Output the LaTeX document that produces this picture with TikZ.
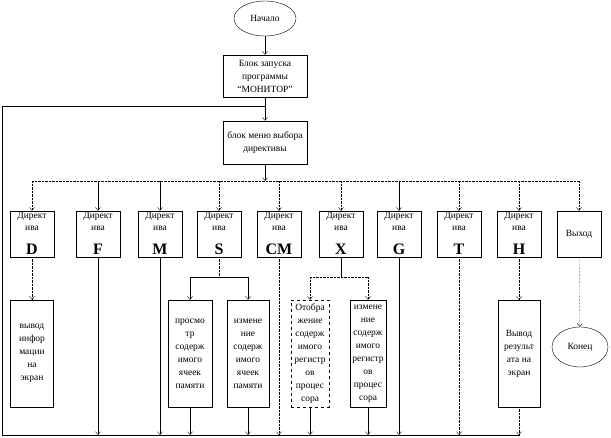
\documentclass[tikz,border=0pt]{standalone}
\usepackage{fontspec}
\setmainfont{Liberation Serif}
\usetikzlibrary{shapes.geometric,arrows.meta}

\begin{document}
\begin{tikzpicture}
		[x=1pt,y=-1pt,>={Straight Barb[length=3pt,width=5pt]},
		every node/.style={draw,inner sep=0pt,align=center,font=\fontsize{9.5}{13}\selectfont},
		term/.style={ellipse},
		blk/.style={minimum width=84pt,minimum height=42pt},
		dir/.style={minimum width=44pt,minimum height=46pt,font=\fontsize{9.5}{12}\selectfont},
		letter/.style={font=\fontsize{16}{16}\selectfont\bfseries},
		outbox/.style={minimum height=107pt},
		dots/.style={densely dotted}]
		\useasboundingbox (0,0) rectangle (611,438);
		% start and menu
		\node[term,minimum width=62pt,minimum height=35pt] (start) at (265,18.5) {Начало};
		\node[blk] (run) at (265,76) {Блок запуска\\программы\\“МОНИТОР”};
		\node[blk,minimum height=43pt] (menu) at (265,142.5) {блок меню выбора\\директивы};
		\coordinate (busL) at (32,181);
		\coordinate (busR) at (579,181);
		\coordinate (botL) at (2,435);
		\coordinate (botR) at (520,435);
		\coordinate (back) at (2,106);
		\draw[->] (start) -- (run);
		\draw[->] (run) -- (menu);
		\draw[->] (menu) -- (menu |- busL);
		\draw[dots] (busL) -- (busR);
		% directives
		\foreach \n/\x in {D/32,F/98,M/160,S/219,CM/279,X/341,G/399,T/459,H/519}
			\node[dir,label={[draw=none,letter,anchor=south,yshift=2pt]south:\n}] (dir\n) at (\x,234) {Директ\\ива\\[14pt]};
		\node[dir] (ext) at (579,234) {Выход};
		\foreach \n in {D,S,CM,X,T,H}
			\draw[->,dots] (dir\n |- busL) -- (dir\n);
		\foreach \n in {F,M,G}
			\draw[->] (dir\n |- busL) -- (dir\n);
		\draw[->,dots] (busR) -- (ext);
		% actions
		\node[outbox,minimum width=43pt] (outD) at (32,353.5) {вывод\\инфор\\мации\\на\\экран};
		\node[outbox,minimum width=44pt] (sOne) at (190,353.5) {просмо\\тр\\содерж\\имого\\ячеек\\памяти};
		\node[outbox,minimum width=42pt] (sTwo) at (248,353.5) {измене\\ние\\содерж\\имого\\ячеек\\памяти};
		\node[outbox,minimum width=38pt,dashed] (xOne) at (310,353.5) {Отобра\\жение\\содерж\\имого\\регистр\\ов\\процес\\сора};
		\node[outbox,minimum width=36pt] (xTwo) at (368,353.5) {измене\\ние\\содерж\\имого\\регистр\\ов\\процес\\сора};
		\node[outbox,minimum width=42pt] (outH) at (519,353.5) {Вывод\\результ\\ата на\\экран};
		\node[term,minimum width=56pt,minimum height=40pt] (fin) at (580,347) {Конец};
		\coordinate (sSplit) at (219,277);
		\coordinate (xSplit) at (341,277);
		\draw[->,dots] (dirD) -- (outD);
		\draw[dots] (dirS) -- (sSplit);
		\draw (sOne |- sSplit) -- (sTwo |- sSplit);
		\draw[->] (sOne |- sSplit) -- (sOne);
		\draw[->] (sTwo |- sSplit) -- (sTwo);
		\draw (dirX) -- (xSplit);
		\draw[dots] (xOne |- xSplit) -- (xTwo |- xSplit);
		\draw[->,dots] (xOne |- xSplit) -- (xOne);
		\draw[->,dots] (xTwo |- xSplit) -- (xTwo);
		\draw[->,dots] (dirH) -- (outH);
		\draw[->,dots] (ext) -- (fin);
		% return to menu
		\foreach \n in {dirF,dirM,sOne,sTwo,xOne,xTwo,dirG}
			\draw[->] (\n) -- (\n |- botL);
		\foreach \n in {dirCM,dirT,outH}
			\draw[->,dots] (\n) -- (\n |- botL);
		\draw (botR) -- (botL) -- (back) -- (back -| menu);
\end{tikzpicture}
\end{document}
